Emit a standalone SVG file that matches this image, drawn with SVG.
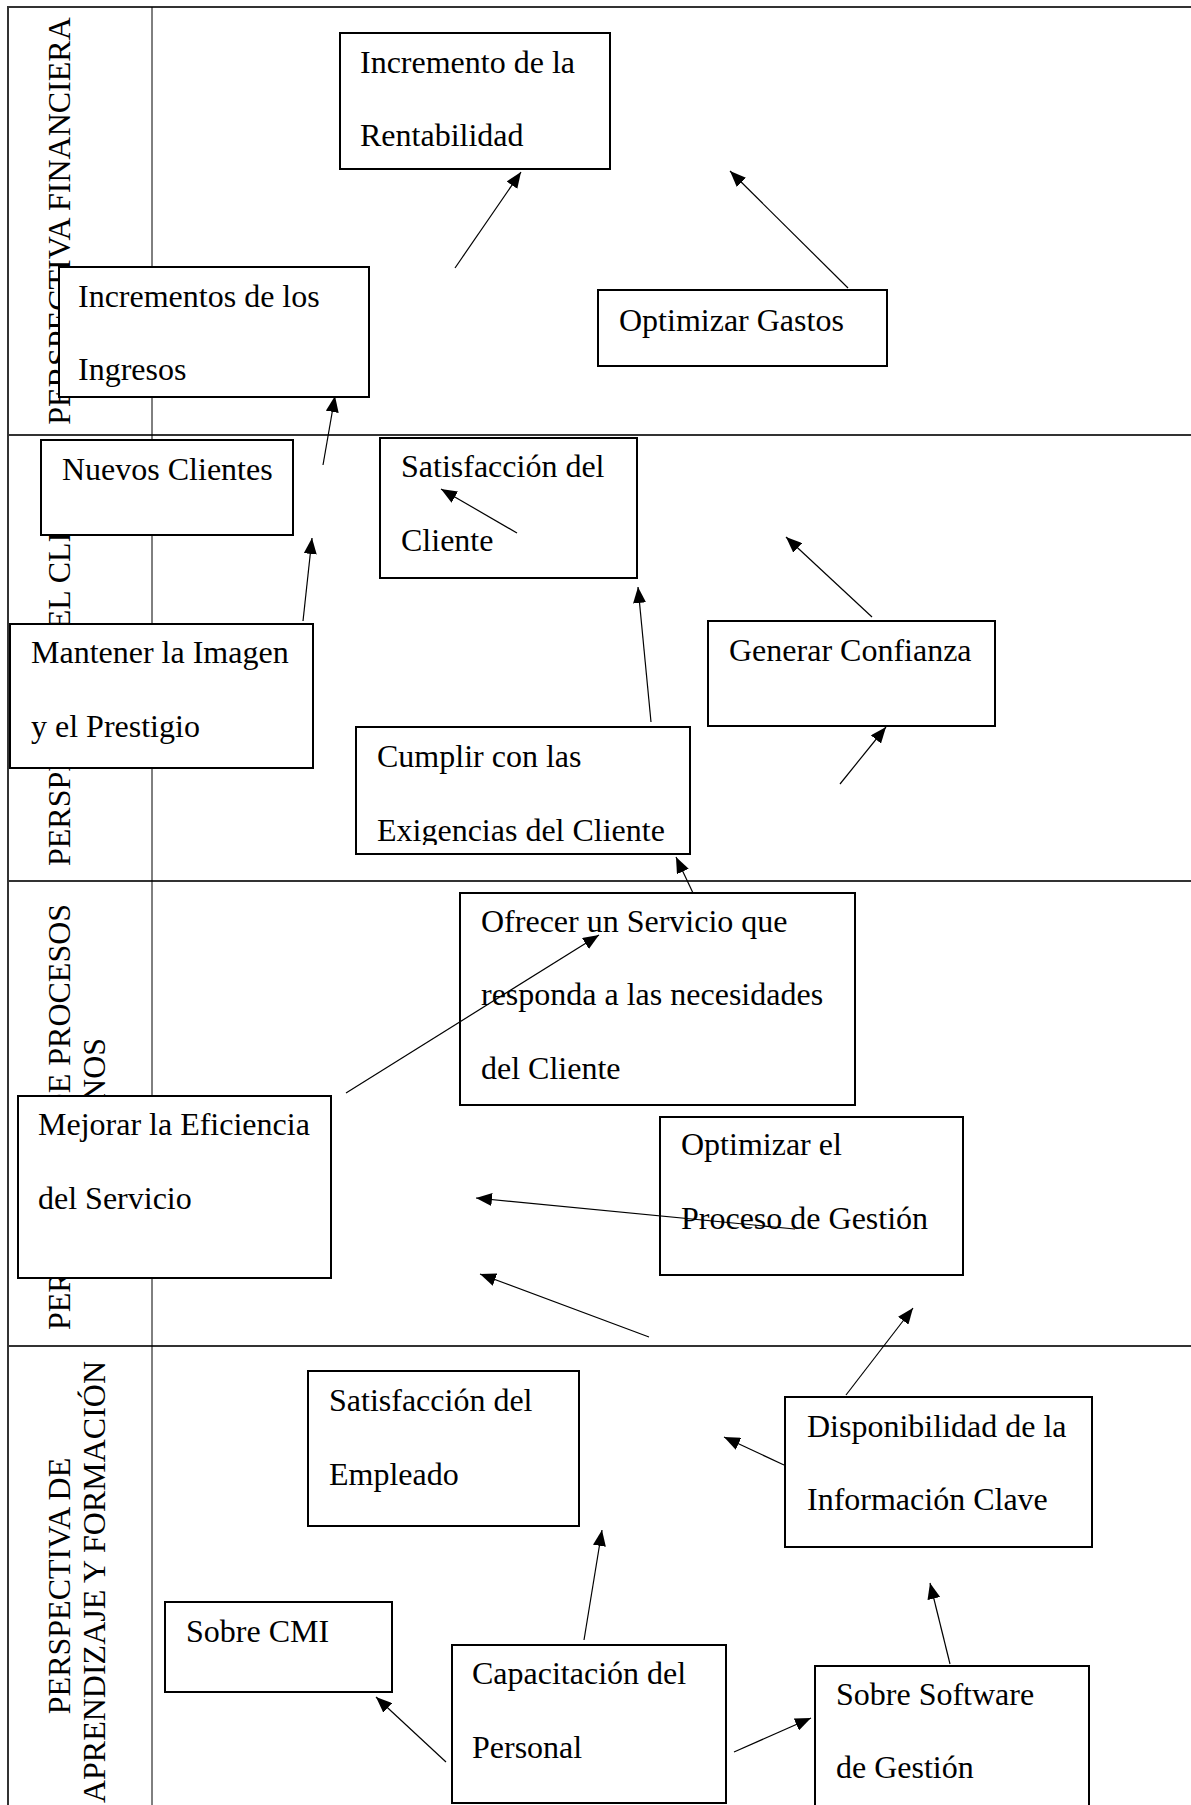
<svg xmlns="http://www.w3.org/2000/svg" width="1191" height="1805" viewBox="0 0 1191 1805">
<style>
text { font-family: "Liberation Serif", "Times New Roman", serif; font-size: 32px; fill: #000; }
.box { fill: #fff; stroke: #000; stroke-width: 2; }
.grid { stroke: #333; stroke-width: 2; fill: none; }
.col { stroke: #000; stroke-width: 1; fill: none; }
.lbl { text-anchor: middle; }
.conn line { stroke: #000; stroke-width: 1.2; marker-end: url(#arr); }
</style>
<defs>
<marker id="arr" markerUnits="userSpaceOnUse" markerWidth="16" markerHeight="13" refX="16" refY="6.5" orient="auto">
<path d="M0,0 L16,6.5 L0,13 z" fill="#000"/>
</marker>
<clipPath id="clipCumplir"><rect x="356" y="727" width="334" height="118"/></clipPath>
</defs>
<rect width="1191" height="1805" fill="#fff"/>
<g id="table">
<line class="grid" x1="8" y1="7" x2="1191" y2="7"/>
<line class="grid" x1="8" y1="6" x2="8" y2="1805"/>
<line class="grid" x1="8" y1="435" x2="1191" y2="435"/>
<line class="grid" x1="8" y1="881" x2="1191" y2="881"/>
<line class="grid" x1="8" y1="1346" x2="1191" y2="1346"/>
<line class="col" x1="152" y1="7" x2="152" y2="1805"/>
</g>
<g id="labels">
<text class="lbl" transform="translate(70,221) rotate(-90)">PERSPECTIVA FINANCIERA</text>
<text class="lbl" transform="translate(70,658) rotate(-90)">PERSPECTIVA DEL CLIENTE</text>
<text class="lbl" transform="translate(70,1117) rotate(-90)">PERSPECTIVA DE PROCESOS</text>
<text class="lbl" transform="translate(105,1117) rotate(-90)">INTERNOS</text>
<text class="lbl" transform="translate(70,1586) rotate(-90)">PERSPECTIVA DE</text>
<text class="lbl" transform="translate(105,1582) rotate(-90)">APRENDIZAJE Y FORMACIÓN</text>
</g>
<g id="n1"><rect class="box" x="340" y="33" width="270" height="136"/><text x="360" y="73">Incremento de la</text><text x="360" y="146">Rentabilidad</text></g>
<g id="n2"><rect class="box" x="59" y="267" width="310" height="130"/><text x="78" y="307">Incrementos de los</text><text x="78" y="380">Ingresos</text></g>
<g id="n3"><rect class="box" x="598" y="290" width="289" height="76"/><text x="619" y="331">Optimizar Gastos</text></g>
<g id="n4"><rect class="box" x="41" y="440" width="252" height="95"/><text x="62" y="480">Nuevos Clientes</text></g>
<g id="n5"><rect class="box" x="380" y="438" width="257" height="140"/><text x="401" y="477">Satisfacción del</text><text x="401" y="551">Cliente</text></g>
<g id="n6"><rect class="box" x="10" y="624" width="303" height="144"/><text x="31" y="663">Mantener la Imagen</text><text x="31" y="737">y el Prestigio</text></g>
<g id="n7"><rect class="box" x="708" y="621" width="287" height="105"/><text x="729" y="661">Generar Confianza</text></g>
<g id="n8"><rect class="box" x="356" y="727" width="334" height="127"/><g clip-path="url(#clipCumplir)"><text x="377" y="767">Cumplir con las</text><text x="377" y="841">Exigencias del Cliente</text></g></g>
<g id="n9"><rect class="box" x="460" y="893" width="395" height="212"/><text x="481" y="932">Ofrecer un Servicio que</text><text x="481" y="1005">responda a las necesidades</text><text x="481" y="1079">del Cliente</text></g>
<g id="n10"><rect class="box" x="18" y="1096" width="313" height="182"/><text x="38" y="1135">Mejorar la Eficiencia</text><text x="38" y="1209">del Servicio</text></g>
<g id="n11"><rect class="box" x="660" y="1117" width="303" height="158"/><text x="681" y="1155">Optimizar el</text><text x="681" y="1229">Proceso de Gestión</text></g>
<g id="n12"><rect class="box" x="308" y="1371" width="271" height="155"/><text x="329" y="1411">Satisfacción del</text><text x="329" y="1485">Empleado</text></g>
<g id="n13"><rect class="box" x="785" y="1397" width="307" height="150"/><text x="807" y="1437">Disponibilidad de la</text><text x="807" y="1510">Información Clave</text></g>
<g id="n14"><rect class="box" x="165" y="1602" width="227" height="90"/><text x="186" y="1642">Sobre CMI</text></g>
<g id="n15"><rect class="box" x="452" y="1645" width="274" height="158"/><text x="472" y="1684">Capacitación del</text><text x="472" y="1758">Personal</text></g>
<g id="n16"><rect class="box" x="815" y="1666" width="274" height="170"/><text x="836" y="1705">Sobre Software</text><text x="836" y="1778">de Gestión</text></g>
<g id="connectors" class="conn">
<line x1="455" y1="268" x2="521" y2="172"/>
<line x1="848" y1="288" x2="730" y2="171"/>
<line x1="323" y1="465" x2="335" y2="396"/>
<line x1="517" y1="533" x2="441" y2="489"/>
<line x1="303" y1="621" x2="312" y2="538"/>
<line x1="651" y1="722" x2="638" y2="587"/>
<line x1="872" y1="617" x2="786" y2="537"/>
<line x1="840" y1="784" x2="886" y2="727"/>
<line x1="693" y1="893" x2="676" y2="857"/>
<line x1="346" y1="1093" x2="599" y2="935"/>
<line x1="795" y1="1229" x2="476" y2="1198"/>
<line x1="649" y1="1337" x2="480" y2="1274"/>
<line x1="846" y1="1395" x2="913" y2="1308"/>
<line x1="784" y1="1465" x2="724" y2="1437"/>
<line x1="584" y1="1640" x2="602" y2="1530"/>
<line x1="446" y1="1762" x2="376" y2="1697"/>
<line x1="734" y1="1752" x2="811" y2="1718"/>
<line x1="950" y1="1664" x2="930" y2="1583"/>
</g>
</svg>
